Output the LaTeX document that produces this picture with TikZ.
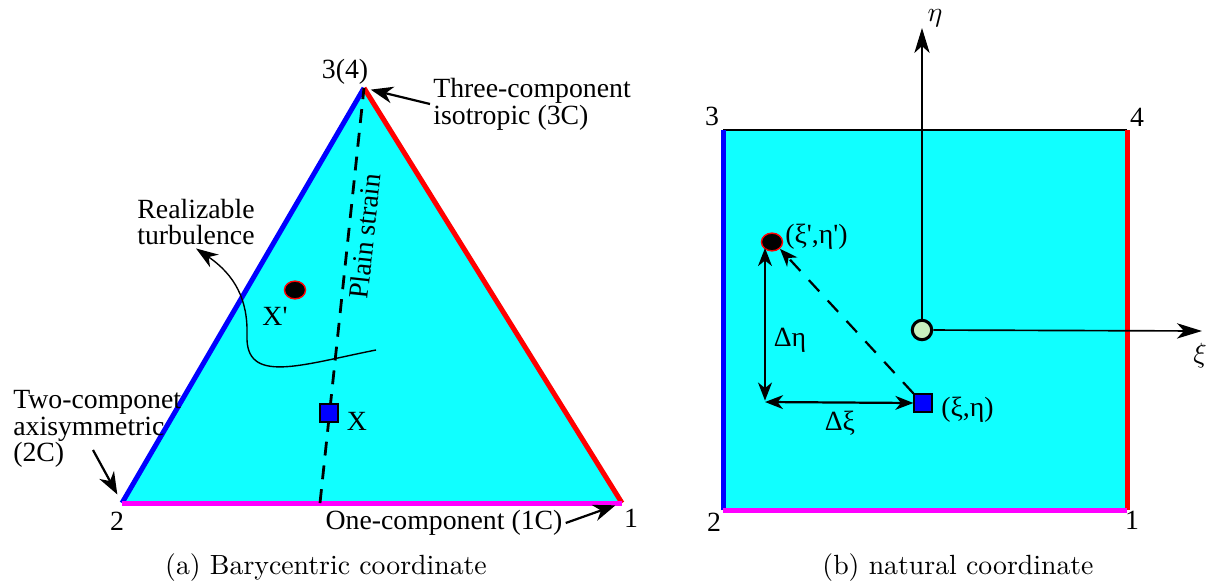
\documentclass[tikz,border=0pt]{standalone}
\usepackage{fontspec}
\newfontfamily\timesfont{Liberation Serif}
\usepackage{tikz}
\usetikzlibrary{arrows.meta, positioning, calc, shapes.geometric}
\definecolor{fillcyan}{RGB}{16,255,255}
\definecolor{edgeblue}{RGB}{0,0,255}
\definecolor{edgered}{RGB}{255,0,0}
\definecolor{edgemagenta}{RGB}{255,0,255}
\definecolor{origingreen}{RGB}{200,240,190}
\tikzset{
  lbl/.style={font=\timesfont\fontsize{10}{9.6}\selectfont, inner sep=1pt},
  caption/.style={font=\normalsize, inner sep=1pt},
  edge/.style={line width=1.8pt},
  arrow/.style={line width=0.8pt, -{Stealth[length=8pt, width=6pt, inset=2.5pt]}},
  thinarrow/.style={line width=0.5pt, -{Stealth[length=8pt, width=5.5pt, inset=2.5pt]}},
  axis/.style={line width=0.6pt, -{Stealth[length=9pt, width=5.5pt, inset=2.5pt]}},
  dblarrow/.style={line width=0.8pt, {Stealth[length=6.5pt, width=5pt, inset=2pt]}-{Stealth[length=6.5pt, width=5pt, inset=2pt]}},
  dotmark/.style={ellipse, minimum width=7.6pt, minimum height=6.4pt, inner sep=0pt, fill=black, draw=edgered, line width=0.5pt},
  sqmark/.style={rectangle, minimum size=6.5pt, inner sep=0pt, fill=edgeblue, draw=black, line width=0.4pt},
  originmark/.style={circle, minimum size=7pt, inner sep=0pt, fill=origingreen, draw=black, line width=1.1pt}
}

\begin{document}
\begin{tikzpicture}[x=0.36pt, y=-0.36pt]
\useasboundingbox (0,0) rectangle (1222,588);

% (a) barycentric triangle
\coordinate (v1) at (622,503);
\coordinate (v2) at (122,503);
\coordinate (v3) at (364,88);
\fill[fillcyan] (v1) -- (v2) -- (v3) -- cycle;
\draw[edge, edgeblue] (v2) -- (v3);
\draw[edge, edgered] (v3) -- (v1);
\draw[edge, edgemagenta] (v2) -- (v1);

\coordinate (ps) at (320,503);
\draw[line width=1pt, dash pattern=on 5pt off 3.6pt] (ps) -- node[pos=0.647, sloped, below, lbl, inner sep=2pt] {Plain strain} (v3);

\node[lbl] (n3) at (345,72) {3(4)};
\node[lbl] (n2) at (117,521) {2};
\node[lbl] (n1) at (631,518) {1};

\node[lbl, anchor=west, align=left] (iso) at (430,104) {Three-component\\isotropic (3C)};
\draw[arrow, shorten >=2.5pt] (iso.west) -- (v3);

\node[lbl, anchor=west, align=left] (axi) at (10,429) {Two-componet\\axisymmetric\\(2C)};
\coordinate (t2) at (93,450);
\draw[arrow, shorten >=3.5pt] (t2) -- (v2);

\node[lbl] (one) at (444,523) {One-component (1C)};
\draw[arrow, shorten >=2.5pt] (one.east) -- (v1);

\node[lbl, align=center] (turb) at (196,222) {Realizable\\turbulence};
\coordinate (rt) at (376,350);
\draw[thinarrow] (rt) .. controls (300,365) and (245,385) .. (247,335) .. controls (248,300) and (235,275) .. (turb.south);

\node[dotmark] (xp) at (295,290) {};
\node[lbl] (xplbl) at (275,316) {X\textquotesingle};
\node[sqmark] (x) at (329,413) {};
\node[lbl] (xlbl) at (357,421) {X};

\node[caption] (capa) at (326,568) {(a) Barycentric coordinate};

% (b) natural coordinate square
\coordinate (s1) at (1127,510);
\coordinate (s2) at (723,510);
\coordinate (s3) at (723,130);
\coordinate (s4) at (1127,130);
\fill[fillcyan] (s1) rectangle (s3);
\draw[line width=0.5pt] (s3) -- (s4);
\draw[edge, edgeblue] (s2) -- (s3);
\draw[edge, edgered] (s1) -- (s4);
\draw[edge, edgemagenta] (s2) -- (s1);

\node[lbl] (m3) at (712,116) {3};
\node[lbl] (m4) at (1137,117) {4};
\node[lbl] (m2) at (714,522) {2};
\node[lbl] (m1) at (1132,520) {1};

\node[originmark] (o) at (922,330) {};
\coordinate (etatip) at (922,28);
\coordinate (xitip) at (1202,331);
\draw[axis] (o) -- (etatip);
\draw[axis] (o) -- (xitip);
\node[inner sep=1pt] (eta) at (935,18) {$\eta$};
\node[inner sep=1pt] (xi) at (1200,356) {$\xi$};

\node[dotmark] (pp) at (772,242) {};
\node[sqmark] (p) at (923,403) {};
\coordinate (c) at (765,402);
\draw[dblarrow, shorten <=0.5pt] (c) -- (765,248);
\draw[dblarrow] (c) -- (p.west);
\draw[line width=0.8pt, dash pattern=on 5.5pt off 4.5pt, -{Stealth[length=6.5pt, width=5pt, inset=2pt]}] (p.north west) -- (pp.south east);

\node[lbl, anchor=west] (pplbl) at (782,237) {(ξ\textquotesingle,η\textquotesingle)};
\node[lbl, anchor=west] (plbl) at (938,410) {(ξ,η)};
\node[lbl] (deta) at (790,340) {Δη};
\node[lbl] (dxi) at (840,423) {Δξ};

\node[caption] (capb) at (958,568) {(b) natural coordinate};
\end{tikzpicture}
\end{document}
